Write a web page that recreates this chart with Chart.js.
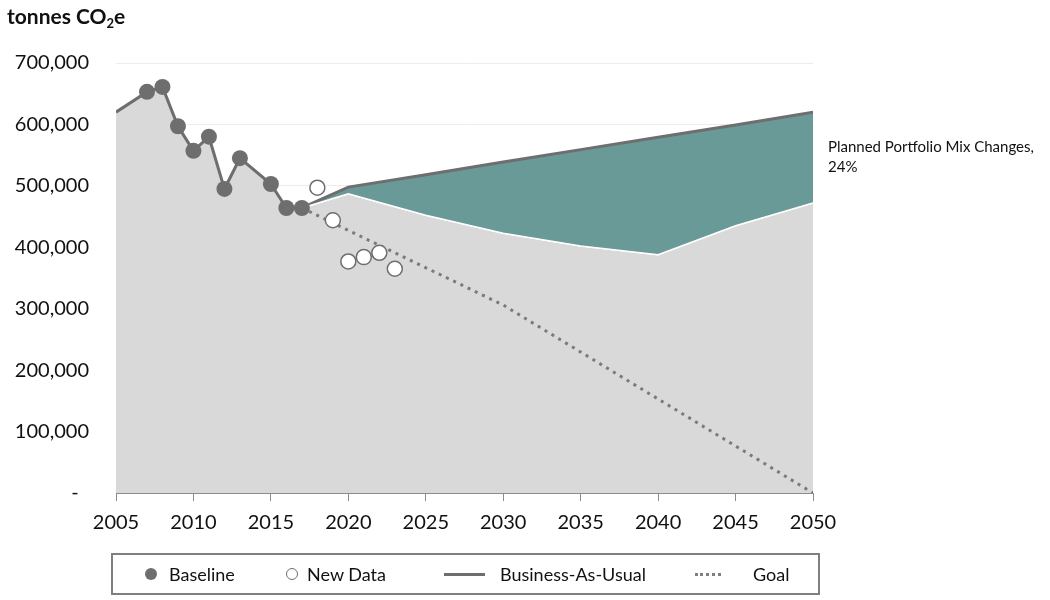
<!DOCTYPE html>
<html>
<head>
<meta charset="utf-8">
<script src="https://cdn.jsdelivr.net/npm/chart.js@4.4.1/dist/chart.umd.min.js"></script>
<style>
    body { margin: 0; background: #fff; font-family: Lato, 'Open Sans', sans-serif; }
    #wrap { position: relative; width: 1050px; height: 600px; }
    #title { position: absolute; left: 7px; top: 3px; font-size: 21px; font-weight: bold; color: #111; }
    #title sub { font-size: 13px; vertical-align: -4px; line-height: 0; }
    #legend { position: absolute; left: 111px; top: 553px; width: 705px; height: 38px; border: 2px solid #7f7f7f; color: #111; font-size: 18px; }
    #legend span { position: absolute; top: 8px; }
    .mark { position: absolute; }
</style>
</head>
<body>
<div id="wrap">
    <canvas id="emissionsChart" width="1050" height="600"></canvas>
    <div id="title">tonnes CO<sub>2</sub>e</div>
    <div id="legend">
        <div class="mark" style="left:32px;top:13px;width:12px;height:12px;border-radius:50%;background:#6e6e6e;"></div>
        <span style="left:56px;">Baseline</span>
        <div class="mark" style="left:173px;top:13px;width:10px;height:10px;border-radius:50%;border:1.5px solid #6e6e6e;"></div>
        <span style="left:194px;">New Data</span>
        <div class="mark" style="left:331px;top:18px;width:41px;height:3px;background:#6e6e6e;"></div>
        <span style="left:387px;">Business-As-Usual</span>
        <div class="mark" style="left:582px;top:18px;width:26px;height:0;border-top:3px dotted #7f7f7f;"></div>
        <span style="left:640px;">Goal</span>
    </div>
</div>
<script>
// Baseline inventory (filled markers)
const baselineYears = [2005, 2007, 2008, 2009, 2010, 2011, 2012, 2013, 2015, 2016, 2017];
const baselineValues = [620000, 653000, 661000, 597000, 557000, 580000, 495000, 545000, 503000, 464000, 464000];

// New data (open markers)
const newDataYears = [2018, 2019, 2020, 2021, 2022, 2023];
const newDataValues = [497000, 444000, 377000, 384000, 391000, 365000];

// Forecasts
const forecastYears = [2017, 2020, 2025, 2030, 2035, 2040, 2045, 2050];
const bauValues = [464000, 498000, 518000, 539000, 559000, 579000, 599000, 620000];
const portfolioValues = [464000, 487000, 452000, 423000, 402000, 388000, 435000, 472000];

// Goal
const goalYears = [2017, 2030, 2050];
const goalValues = [464000, 306000, 0];

const xTicks = [2005, 2010, 2015, 2020, 2025, 2030, 2035, 2040, 2045, 2050];
const annotationLines = ['Planned Portfolio Mix Changes,', '24%'];

const grey = '#6e6e6e';
const pts = (xs, ys) => xs.map((x, i) => ({ x: x, y: ys[i] }));

// grey area = baseline history followed by the portfolio forecast
const areaPoints = pts(baselineYears, baselineValues).concat(pts(forecastYears.slice(1), portfolioValues.slice(1)));

const annotationPlugin = {
    id: 'wedgeLabel',
    afterDraw(chart) {
        const ctx = chart.ctx;
        const x = chart.scales.x.getPixelForValue(2050) + 15;
        const last = forecastYears.length - 1;
        const y = chart.scales.y.getPixelForValue((bauValues[last] + portfolioValues[last]) / 2);
        ctx.save();
        ctx.font = '15px Lato, sans-serif';
        ctx.fillStyle = '#111';
        ctx.textBaseline = 'middle';
        ctx.fillText(annotationLines[0], x, y - 10);
        ctx.fillText(annotationLines[1], x, y + 10);
        ctx.restore();
    }
};

const ctx = document.getElementById('emissionsChart').getContext('2d');
new Chart(ctx, {
    type: 'line',
    data: {
        datasets: [
            {
                label: 'Remaining',
                data: areaPoints,
                backgroundColor: '#d9d9d9',
                borderColor: '#ffffff',
                borderWidth: 1.5,
                pointRadius: 0,
                fill: 'origin',
                order: 10
            },
            {
                label: 'Portfolio',
                data: pts(forecastYears, portfolioValues),
                borderColor: '#ffffff',
                borderWidth: 1.5,
                pointRadius: 0,
                fill: false,
                order: 7
            },
            {
                label: 'Business-As-Usual',
                data: pts(forecastYears, bauValues),
                borderColor: grey,
                backgroundColor: '#699a98',
                borderWidth: 3,
                pointRadius: 0,
                fill: '-1',
                order: 8
            },
            {
                label: 'Goal',
                data: pts(goalYears, goalValues),
                borderColor: '#7a7a7a',
                borderWidth: 3,
                borderDash: [3, 5],
                pointRadius: 0,
                fill: false,
                order: 6
            },
            {
                label: 'Baseline',
                data: pts(baselineYears, baselineValues),
                borderColor: grey,
                backgroundColor: grey,
                borderWidth: 3,
                pointRadius: baselineYears.map(y => y === 2005 ? 0 : 8),
                pointBorderWidth: 0,
                fill: false,
                order: 5
            },
            {
                label: 'New Data',
                data: pts(newDataYears, newDataValues),
                showLine: false,
                borderColor: grey,
                backgroundColor: '#ffffff',
                pointRadius: 7.5,
                pointBorderWidth: 1.5,
                order: 0
            }
        ]
    },
    options: {
        responsive: false,
        animation: false,
        layout: {
            padding: { top: 63, right: 237, left: 0, bottom: 0 }
        },
        scales: {
            x: {
                type: 'linear',
                min: 2005,
                max: 2050,
                afterBuildTicks: axis => { axis.ticks = xTicks.map(v => ({ value: v })); },
                afterFit: axis => { axis.height = 107; },
                ticks: {
                    callback: v => String(v),
                    font: { family: 'Lato', size: 20 },
                    color: '#111',
                    padding: 10,
                    maxRotation: 0
                },
                grid: { drawOnChartArea: false, tickLength: 8, color: '#8c8c8c' },
                border: { color: '#8c8c8c' }
            },
            y: {
                min: 0,
                max: 700000,
                afterFit: axis => { axis.width = 116; },
                ticks: {
                    stepSize: 100000,
                    callback: v => v === 0 ? '-  ' : v.toLocaleString('en-US'),
                    font: { family: 'Lato', size: 20 },
                    color: '#111',
                    padding: 27
                },
                grid: { color: '#ececec', drawTicks: false },
                border: { display: false }
            }
        },
        plugins: {
            legend: { display: false },
            tooltip: { enabled: false }
        }
    },
    plugins: [annotationPlugin]
});
</script>
</body>
</html>
